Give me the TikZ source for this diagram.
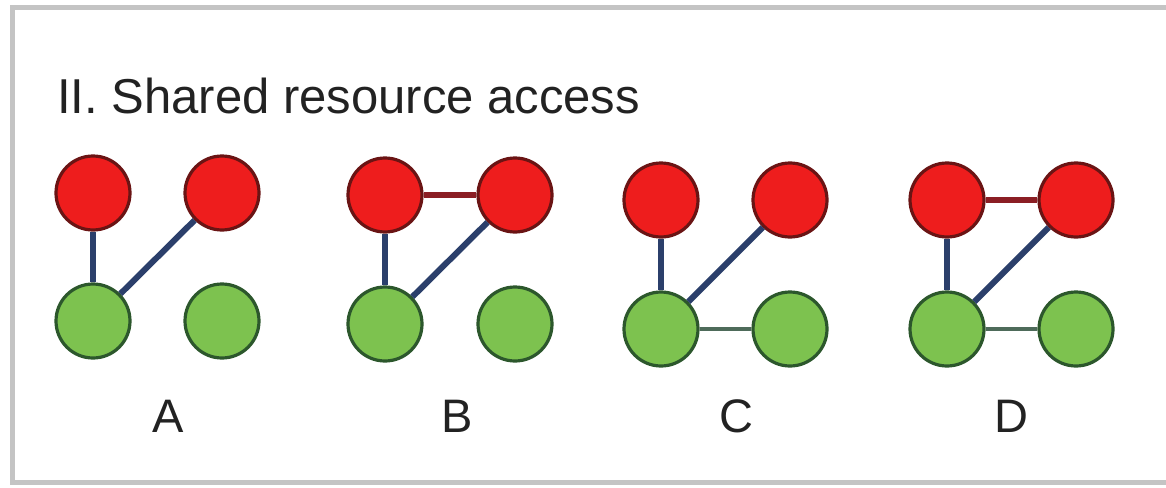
\documentclass[tikz,border=0pt]{standalone}
\usepackage{fontspec}
\setmainfont{Liberation Sans}
\definecolor{resfill}{HTML}{EE1D1D}
\definecolor{resline}{HTML}{6A1414}
\definecolor{procfill}{HTML}{7DC24F}
\definecolor{procline}{HTML}{2C572C}
\definecolor{accessedge}{HTML}{2B3F6B}
\definecolor{resedge}{HTML}{8B1E24}
\definecolor{procedge}{HTML}{4E6B5A}
\definecolor{framegray}{HTML}{C4C4C4}
\definecolor{textdark}{HTML}{222222}
\tikzset{
  res/.style={circle, fill=resfill, draw=resline, line width=3.2pt, minimum size=74pt, inner sep=0pt},
  proc/.style={circle, fill=procfill, draw=procline, line width=3.2pt, minimum size=74pt, inner sep=0pt},
  acc/.style={draw=accessedge, line width=6pt},
  rr/.style={draw=resedge, line width=5.5pt},
  pp/.style={draw=procedge, line width=4.5pt},
  lbl/.style={anchor=base, inner sep=0pt, text=textdark, font=\fontsize{47}{54}\selectfont},
  ttl/.style={anchor=base west, inner sep=0pt, text=textdark, font=\fontsize{49}{58}\selectfont},
}
\begin{document}
\begin{tikzpicture}[x=1pt,y=-1pt]
  \useasboundingbox (0,0) rectangle (1166,487);
  \clip (0,0) rectangle (1166,487);
  \fill[white] (0,0) rectangle (1166,487);
  % outer frame, open on the right
  \draw[framegray, line width=5pt] (12,8) rectangle (1200,482);

  \node[ttl] (title) at (57,113) {II. Shared resource access};

  % four graphs: resources on top, processes below
  \foreach \p/\xa/\xb/\ya/\yb/\lx in {A/93/222/193/321/168, B/385/515/195/324/457, C/661/790/200/329/736, D/947/1076/200/329/1011}{
    \node[res]  (\p r1) at (\xa,\ya) {};
    \node[res]  (\p r2) at (\xb,\ya) {};
    \node[proc] (\p g1) at (\xa,\yb) {};
    \node[proc] (\p g2) at (\xb,\yb) {};
    \node[lbl]  (\p lab) at (\lx,432) {\p};
    \draw[acc] (\p r1) -- (\p g1);
    \draw[acc] (\p r2) -- (\p g1);
  }
  \draw[rr] (Br1) -- (Br2);
  \draw[rr] (Dr1) -- (Dr2);
  \draw[pp] (Cg1) -- (Cg2);
  \draw[pp] (Dg1) -- (Dg2);
\end{tikzpicture}
\end{document}
